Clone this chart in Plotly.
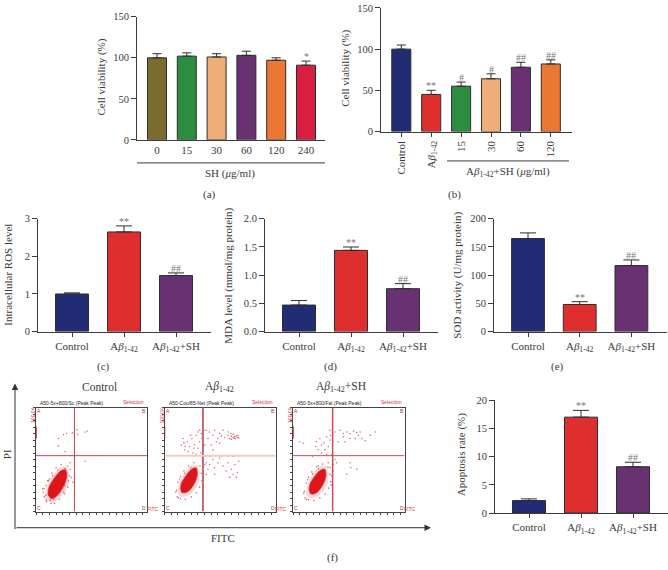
import plotly.graph_objects as go

W, H = 668, 570
SERIF = "Liberation Serif"
TXT = "#3a3a3a"
AXC = "#3c3c3c"

NAVY, RED, GREEN, PEACH, PURPLE, ORANGE = "#222C74", "#DF2E2E", "#2B8C42", "#EFAE78", "#673172", "#EA7832"
OLIVE, CRIMSON = "#7A6C2E", "#D81F42"

AB = "A<i>β</i><sub>1-42</sub>"
ABSH = AB + "+SH"

a_cats = ["0", "15", "30", "60", "120", "240"]
a_vals = [100, 102, 101, 103, 97, 91]
a_tops = [105, 106, 105, 108, 100, 96]
a_marks = ["", "", "", "", "", "*"]

b_cats = ["Control", AB, "15", "30", "60", "120"]
b_vals = [100, 45, 55, 64, 78, 82]
b_tops = [105, 50, 60, 70, 84, 87]
b_marks = ["", "**", "#", "#", "##", "##"]

group_cats = ["Control", AB, ABSH]
group_marks = ["", "**", "##"]

c_vals = [1.0, 2.65, 1.49]
c_tops = [1.03, 2.81, 1.56]
d_vals = [0.47, 1.44, 0.76]
d_tops = [0.55, 1.50, 0.85]
e_vals = [165, 48, 117]
e_tops = [175, 53, 127]
f_vals = [2.2, 17.0, 8.2]
f_tops = [2.5, 18.2, 9.0]

# Flow cytometry panels (channel units)
ctrl_core_x = [36, 38, 48, 62, 76, 88, 92, 88, 78, 64, 50, 42]
ctrl_core_y = [50, 72, 92, 112, 126, 128, 112, 92, 70, 50, 40, 42]
ctrl_halo_x = [26, 30, 42, 58, 74, 92, 100, 98, 88, 70, 50, 34]
ctrl_halo_y = [42, 72, 100, 122, 138, 138, 118, 90, 62, 40, 28, 32]
ctrl_x = [67, 82, 92, 109, 122, 125, 154, 147, 87, 67, 147, 102, 87, 37, 29, 92, 42, 100, 24, 52, 97, 82, 87,
          22, 30, 40, 48, 60, 75, 95, 102, 105, 95, 85, 70, 55, 45, 32, 25, 20, 35, 50, 65, 110, 30]
ctrl_y = [225, 237, 240, 242, 252, 238, 248, 245, 185, 202, 155, 150, 132, 95, 50, 118, 35, 110, 70, 38, 95, 60, 80,
          60, 80, 100, 118, 135, 145, 140, 130, 105, 75, 55, 38, 25, 25, 30, 45, 70, 95, 110, 128, 90, 35]

ab_core_x = [48, 50, 58, 70, 84, 94, 98, 94, 84, 70, 58, 50]
ab_core_y = [68, 85, 100, 118, 132, 134, 118, 98, 78, 62, 58, 60]
ab_halo_x = [40, 42, 52, 66, 82, 98, 106, 104, 92, 74, 56, 44]
ab_halo_y = [58, 84, 106, 128, 144, 144, 122, 94, 68, 50, 44, 48]
ab_x = [50, 55, 60, 68, 75, 82, 85, 90, 95, 100, 105, 100, 110, 112, 78, 62, 70, 95, 108, 115, 88, 58, 105, 118,
        125, 135, 130, 145, 150, 160, 165, 175, 180, 190, 195, 198, 200, 205, 208, 210, 212, 215, 218, 220, 205, 222, 200, 190, 170, 155, 140, 120, 145, 165,
        120, 125, 135, 145, 150, 160, 165, 175, 185, 190, 200, 210, 218, 222, 215, 195, 205, 125, 130, 115, 150, 170, 205, 120, 135,
        36, 40, 48, 58, 72, 88, 106, 110, 112, 105, 95, 80, 62, 48, 38, 34, 45, 60, 78, 114, 42]
ab_y = [205, 225, 190, 215, 200, 225, 180, 205, 235, 195, 215, 245, 240, 225, 235, 200, 185, 175, 180, 195, 195, 212, 250, 250,
        250, 245, 225, 235, 250, 225, 240, 250, 228, 235, 225, 240, 232, 228, 226, 230, 224, 232, 228, 235, 238, 226, 222, 245, 232, 215, 205, 205, 190, 210,
        170, 150, 145, 160, 135, 150, 165, 140, 125, 150, 130, 145, 120, 155, 105, 105, 115, 115, 130, 130, 115, 170, 170, 145, 170,
        65, 90, 108, 125, 140, 150, 140, 118, 95, 75, 58, 45, 38, 40, 45, 60, 100, 118, 135, 85, 42]

sh_core_x = [48, 50, 58, 70, 84, 94, 98, 94, 84, 70, 58, 50]
sh_core_y = [65, 82, 98, 115, 128, 130, 115, 95, 75, 58, 54, 56]
sh_halo_x = [38, 42, 52, 66, 82, 98, 106, 104, 92, 74, 56, 44]
sh_halo_y = [55, 82, 104, 126, 140, 140, 118, 90, 64, 46, 40, 44]
sh_x = [70, 80, 85, 95, 100, 110, 110, 105, 85, 100, 30, 112, 75, 92, 115, 58, 68, 20,
        125, 140, 150, 160, 170, 180, 190, 200, 205, 215, 230, 245, 135, 155, 170, 185, 195, 150,
        125, 120, 130, 170, 172, 190, 105, 110, 120, 115, 75, 160,
        34, 40, 46, 56, 70, 88, 104, 110, 112, 106, 96, 80, 62, 46, 36, 32, 44, 58, 76, 114, 40]
sh_y = [215, 225, 205, 190, 230, 250, 220, 200, 180, 175, 210, 235, 190, 212, 175, 170, 200, 215,
        245, 250, 230, 245, 240, 248, 243, 245, 225, 218, 235, 245, 215, 215, 225, 225, 235, 240,
        160, 145, 150, 150, 135, 130, 150, 135, 125, 110, 140, 115,
        62, 88, 105, 122, 138, 146, 136, 115, 92, 72, 54, 42, 34, 36, 42, 56, 98, 116, 132, 82, 38]

flow_titles = ["Control", AB, ABSH]
flow_headers = ["A50-5x+800/Sc (Peak Peak)", "A50-Cou/85-Net (Peak Peak)", "A50-5x+800/Fal (Peak Peak)"]
gate_x = [115, 115, 118]
gate_y = 172

fig = go.Figure()


def xd(a, b):
    return [a / W, b / W]


def yd(top, bottom):
    return [1 - bottom / H, 1 - top / H]


def txt(x, y, text, size=11, color=TXT, angle=0, xanchor="center", yanchor="middle", family=SERIF):
    fig.add_annotation(x=x / W, y=1 - y / H, xref="paper", yref="paper", text=text, showarrow=False,
                       textangle=angle, xanchor=xanchor, yanchor=yanchor,
                       font=dict(family=family, size=size, color=color))


def bars(n, cats, vals, tops, marks, colors, left, right, c0, step, base_px, top_px, ymax, dtick, ytitle, title_x,
         title_y, cap, ticks="outside", angle=0, fmt=None):
    sfx = "" if n == 1 else str(n)
    bw = 19 / 29.8 if step < 40 else 33 / 52
    fig.add_trace(go.Bar(
        x=cats, y=vals, width=bw, xaxis="x" + sfx, yaxis="y" + sfx, showlegend=False,
        marker=dict(color=colors, line=dict(color="#2e2e2e", width=1)),
        error_y=dict(type="data", symmetric=False, array=[t - v for t, v in zip(tops, vals)],
                     arrayminus=[0] * len(vals), color="#2e2e2e", thickness=1, width=cap),
    ))
    fig.layout["xaxis" + sfx] = dict(
        domain=xd(left, right), anchor="y" + sfx, type="category", categoryorder="array", categoryarray=cats,
        range=[(left - c0) / step, (right - c0) / step], showline=True, linecolor=AXC, linewidth=1,
        ticks=ticks, ticklen=4, tickcolor=AXC, tickangle=angle, showgrid=False, zeroline=False,
        tickfont=dict(family=SERIF, size=11, color=TXT))
    fig.layout["yaxis" + sfx] = dict(
        domain=yd(top_px, base_px), anchor="x" + sfx, range=[0, ymax], dtick=dtick, tickformat=fmt,
        showline=True, linecolor=AXC, linewidth=1, ticks="outside", ticklen=5, tickcolor=AXC,
        showgrid=False, zeroline=False, tickfont=dict(family=SERIF, size=10.5, color=TXT))
    for i, (t, m) in enumerate(zip(tops, marks)):
        if m:
            fig.add_annotation(x=i, y=t, xref="x" + sfx, yref="y" + sfx, text=m, showarrow=False, yanchor="bottom",
                               yshift=-3, font=dict(family=SERIF, size=10, color="#777777"))
    txt(title_x, title_y, ytitle, size=11, angle=-90)


bars(1, a_cats, a_vals, a_tops, a_marks, [OLIVE, GREEN, PEACH, PURPLE, ORANGE, CRIMSON],
     137, 325, 157, 29.8, 137.5, 12, 150, 50, "Cell viability (%)", 102, 74, 4.5, ticks="")
bars(2, b_cats, b_vals, b_tops, b_marks, [NAVY, RED, GREEN, PEACH, PURPLE, ORANGE],
     381, 572, 401.3, 29.9, 129, 3, 150, 50, "Cell viability (%)", 346, 65, 4.5, angle=-90)
g_cols = [NAVY, RED, PURPLE]
bars(3, group_cats, c_vals, c_tops, group_marks, g_cols, 38, 211, 72, 52, 333, 218, 3, 1,
     "Intracellular ROS level", 8, 275, 8)
bars(4, group_cats, d_vals, d_tops, group_marks, g_cols, 265, 438, 299, 52, 333, 218, 2, 0.5,
     "MDA level (mmol/mg protein)", 229, 276, 8, fmt=".1f")
bars(5, group_cats, e_vals, e_tops, group_marks, g_cols, 494, 667, 528, 51.7, 333, 218, 200, 50,
     "SOD activity (U/mg protein)", 458, 276, 8)
bars(6, group_cats, f_vals, f_tops, group_marks, g_cols, 495, 668, 529, 52, 518, 403, 20, 5,
     "Apoptosis rate (%)", 461, 459, 8)

# group lines and captions
for x0, x1, y in [(137, 325, 161), (447, 569, 159)]:
    fig.add_shape(type="line", xref="paper", yref="paper", x0=x0 / W, x1=x1 / W, y0=1 - y / H, y1=1 - y / H,
                  line=dict(color=AXC, width=1))
txt(230, 172, "SH (<i>μ</i>g/ml)", size=11)
txt(508, 170, ABSH + " (<i>μ</i>g/ml)", size=11)
for x, y, s in [(209, 193, "(a)"), (454, 193, "(b)"), (103, 369, "(c)"), (330, 369, "(d)"),
                (557, 369, "(e)"), (332, 563, "(f)")]:
    txt(x, y, s, size=11)

# flow cytometry panels
flow = [
    (7, 36, 147, ctrl_core_x, ctrl_core_y, ctrl_halo_x, ctrl_halo_y, ctrl_x, ctrl_y),
    (8, 164.5, 275.5, ab_core_x, ab_core_y, ab_halo_x, ab_halo_y, ab_x, ab_y),
    (9, 293, 404.5, sh_core_x, sh_core_y, sh_halo_x, sh_halo_y, sh_x, sh_y),
]
for i, (n, l, r, cx, cy, hx, hy, sx, sy) in enumerate(flow):
    s = str(n)
    fig.add_trace(go.Scatter(x=hx, y=hy, xaxis="x" + s, yaxis="y" + s, mode="lines", fill="toself",
                             fillcolor="rgba(228,70,80,0.2)", line=dict(width=0), showlegend=False, hoverinfo="skip"))
    fig.add_trace(go.Scatter(x=cx, y=cy, xaxis="x" + s, yaxis="y" + s, mode="lines", fill="toself",
                             fillcolor="#DD161C", line=dict(width=1.5, color="rgba(221,22,28,0.5)", shape="spline"),
                             showlegend=False, hoverinfo="skip"))
    fig.add_trace(go.Scatter(x=sx, y=sy, xaxis="x" + s, yaxis="y" + s, mode="markers",
                             marker=dict(size=1.6, color="rgba(214,60,70,0.75)"), showlegend=False, hoverinfo="skip"))
    fig.layout["xaxis" + s] = dict(domain=xd(l, r), anchor="y" + s, range=[0, 332], showline=True, mirror=True,
                                   linecolor="#444444", linewidth=1, ticks="outside", ticklen=2, tickcolor="#444444",
                                   dtick=20, showticklabels=False, showgrid=False, zeroline=False)
    fig.layout["yaxis" + s] = dict(domain=yd(410.5, 516.5), anchor="x" + s, range=[0, 320], showline=True, mirror=True,
                                   linecolor="#444444", linewidth=1, ticks="outside", ticklen=2, tickcolor="#444444",
                                   dtick=20, showticklabels=False, showgrid=False, zeroline=False)
    # gates
    vcol = {0: "#C9434F", 1: "#C06A70", 2: "#CE4A58"}[i]
    hcol = {0: "#C9434F", 1: "#F3CDBB", 2: "#CE4A58"}[i]
    vw = {0: 1, 1: 2, 2: 1.5}[i]
    hw = {0: 1, 1: 2, 2: 1}[i]
    fig.add_shape(type="line", xref="x" + s, yref="y" + s, x0=gate_x[i], x1=gate_x[i], y0=0, y1=320,
                  line=dict(color=vcol, width=vw))
    fig.add_shape(type="line", xref="x" + s, yref="y" + s, x0=0, x1=332, y0=gate_y, y1=gate_y,
                  line=dict(color=hcol, width=hw))
    fig.add_shape(type="line", xref="x" + s, yref="y" + s, x0=1, x1=1, y0=225, y1=262,
                  line=dict(color="#D8323C", width=1))
    # tiny instrument labels
    txt(l + 2, 405.5, flow_headers[i], size=5, color="#222222", xanchor="left", family="Liberation Sans")
    txt(r - 1, 405, "Selection", size=5, color="#D8323C", xanchor="right", family="Liberation Sans")
    txt(l - 3, 418, "100.0K", size=5, color="#D8323C", angle=-90, family="Liberation Sans")
    txt(r + 5, 514, "FITC", size=5, color="#D8323C", family="Liberation Sans")
    txt(l + 3, 413.5, "A", size=5, color="#B03040", family="Liberation Sans")
    txt(r - 3, 413.5, "B", size=5, color="#B03040", family="Liberation Sans")
    txt(l + 3, 513, "C", size=5, color="#B03040", family="Liberation Sans")
    txt(r - 3, 513, "D", size=5, color="#B03040", family="Liberation Sans")

for x, s in zip([100, 219, 341], flow_titles):
    txt(x, 390, s, size=11.5)
txt(7, 458, "PI", size=11, angle=-90)
txt(223, 543, "FITC", size=11)

# large axis arrows
fig.add_annotation(x=15 / W, y=1 - 386 / H, ax=0, ay=147, xref="paper", yref="paper", axref="pixel",
                   ayref="pixel", text="", showarrow=True, arrowhead=2, arrowsize=1.3, arrowwidth=1, arrowcolor="#333333")
fig.add_annotation(x=431 / W, y=1 - 533 / H, ax=-416, ay=0, xref="paper", yref="paper", axref="pixel",
                   ayref="pixel", text="", showarrow=True, arrowhead=2, arrowsize=1.3, arrowwidth=1, arrowcolor="#333333")

fig.update_layout(width=W, height=H, margin=dict(l=0, r=0, t=0, b=0), plot_bgcolor="white", paper_bgcolor="white",
                  showlegend=False, barmode="overlay", font=dict(family=SERIF, color=TXT))
fig.write_html("out.html", config={"displayModeBar": False},
               post_script="document.body.style.margin='0';document.documentElement.style.overflow='hidden';")
